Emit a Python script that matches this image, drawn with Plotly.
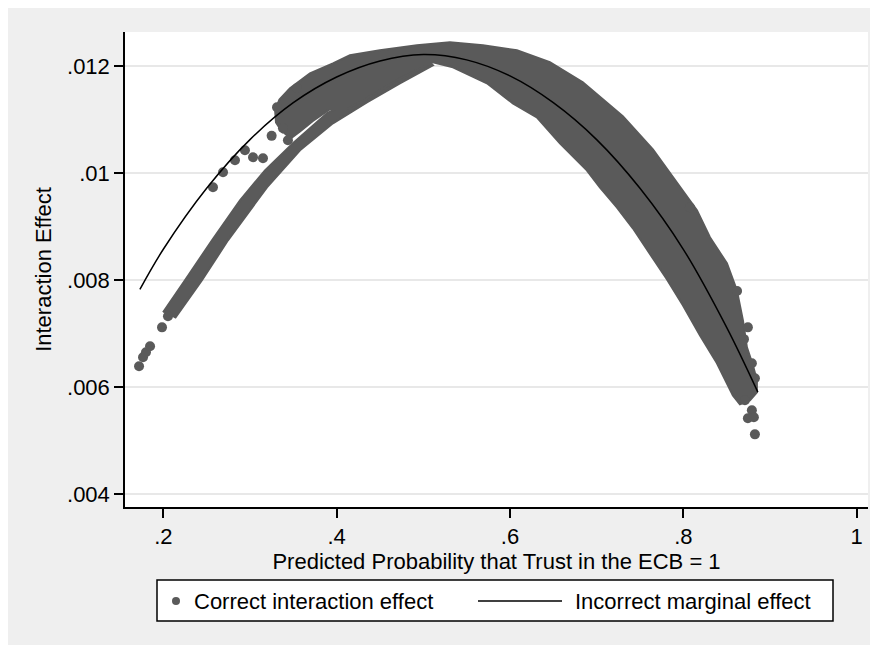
import plotly.graph_objects as go

# Incorrect marginal effect (smooth curve)
line_x = [0.173, 0.2, 0.25, 0.3, 0.35, 0.4, 0.45, 0.5, 0.55, 0.6, 0.65, 0.7, 0.75, 0.8, 0.85, 0.886]
line_y = [0.00783, 0.00858, 0.00972, 0.01063, 0.01132, 0.01180, 0.01210, 0.01222,
          0.01212, 0.01182, 0.01132, 0.01063, 0.00972, 0.00858, 0.00712, 0.00591]

# Correct interaction effect: the dense cloud is traced as two outlines
# thin lower band (left part)
band_x = [0.2135, 0.2446, 0.2746, 0.3081, 0.3196, 0.3577, 0.3957, 0.4349, 0.4730, 0.5111,
          0.5018, 0.4730, 0.4349, 0.4119, 0.3888, 0.3496, 0.3173, 0.2885, 0.2562, 0.2250, 0.1997]
band_y = [0.007290, 0.008000, 0.008748, 0.009495, 0.009738, 0.010430, 0.010935, 0.011327, 0.011682, 0.012019,
          0.012150, 0.011888, 0.011551, 0.011327, 0.011121, 0.010561, 0.010056, 0.009495, 0.008748, 0.008000, 0.007402]

# main cloud (upper cluster, peak and right part)
cloud_x = [0.3381, 0.3300, 0.3290, 0.3340, 0.3462, 0.3692, 0.3957, 0.4153, 0.4499, 0.4926, 0.5307,
           0.5688, 0.6080, 0.6460, 0.6841, 0.7302, 0.7649, 0.7960, 0.8157, 0.8307, 0.8503,
           0.8618, 0.8688, 0.8734, 0.8803, 0.8849, 0.8849, 0.8768, 0.8653, 0.8572, 0.8388,
           0.8191, 0.7995, 0.7810, 0.7614, 0.7418, 0.7233, 0.7037, 0.6887, 0.6576, 0.6310,
           0.6033, 0.5734, 0.5342, 0.5111, 0.4730, 0.4349, 0.4119, 0.3923, 0.3726, 0.3577, 0.3462]
cloud_y = [0.010750, 0.010950, 0.011180, 0.011380, 0.011589, 0.011869, 0.012056, 0.012206, 0.012299, 0.012393, 0.012449,
           0.012393, 0.012299, 0.012075, 0.011701, 0.011065, 0.010449, 0.009738, 0.009308, 0.008804, 0.008318,
           0.007813, 0.007252, 0.006748, 0.006411, 0.006131, 0.005907, 0.005757, 0.005682, 0.005850, 0.006449,
           0.006972, 0.007533, 0.008019, 0.008505, 0.008972, 0.009364, 0.009738, 0.010056, 0.010561, 0.011047,
           0.011308, 0.011682, 0.011981, 0.012075, 0.011776, 0.011400, 0.011200, 0.011200, 0.010980, 0.010780, 0.010640]

# stray points outside the dense cloud
dots_x = [0.1720, 0.1766, 0.1800, 0.1847, 0.1985, 0.2054,
          0.2573, 0.2689, 0.2827, 0.2942, 0.3035, 0.3150, 0.3438, 0.3381, 0.3312, 0.3542, 0.3250,
          0.8076, 0.8745, 0.8791, 0.8826, 0.8711, 0.8791, 0.8745, 0.8814, 0.8826, 0.8620, 0.8700]
dots_y = [0.006393, 0.006561, 0.006654, 0.006766, 0.007121, 0.007327,
          0.009738, 0.010019, 0.010243, 0.010430, 0.010299, 0.010280, 0.010617, 0.010841, 0.011234, 0.011589, 0.010700,
          0.009364, 0.007121, 0.006449, 0.006168, 0.005757, 0.005570, 0.005421, 0.005439, 0.005121, 0.007800, 0.006900]

x_ticks = [0.2, 0.4, 0.6, 0.8, 1.0]
x_labels = ['.2', '.4', '.6', '.8', '1']
y_ticks = [0.004, 0.006, 0.008, 0.01, 0.012]
y_labels = ['.004', '.006', '.008', '.01', '.012']

DOT = '#5a5a5a'
BG = '#efefef'
FONT = 'Arial, Liberation Sans, sans-serif'

fig = go.Figure()

for xs, ys in [(band_x, band_y), (cloud_x, cloud_y)]:
    fig.add_trace(go.Scatter(
        x=xs, y=ys, mode='lines', fill='toself', fillcolor=DOT,
        line=dict(color=DOT, width=2), hoverinfo='skip', showlegend=False
    ))

fig.add_trace(go.Scatter(
    x=dots_x, y=dots_y, mode='markers',
    marker=dict(color=DOT, size=10, line=dict(width=0)),
    name='Correct interaction effect', showlegend=False
))

fig.add_trace(go.Scatter(
    x=line_x, y=line_y, mode='lines', line=dict(color='black', width=1.5, shape='spline'),
    name='Incorrect marginal effect', showlegend=False
))

# page sits 8px in from the window corner; plot area spans page px 125..868 x 32..507
def px(v):
    return (v - 125) / 743

def py(v):
    return (507 - v) / 475

shapes = []
# legend drawn by hand (Stata style)
shapes.append(dict(type='rect', xref='paper', yref='paper', x0=px(157), x1=px(833),
                   y0=py(621), y1=py(580), fillcolor='white', line=dict(color='black', width=1.5)))
shapes.append(dict(type='circle', xref='paper', yref='paper', x0=px(172), x1=px(180),
                   y0=py(605), y1=py(597), fillcolor=DOT, line_width=0))
shapes.append(dict(type='line', xref='paper', yref='paper', x0=px(478), x1=px(562),
                   y0=py(601), y1=py(601), line=dict(color='black', width=1.5)))

annotations = [
    dict(text='Correct interaction effect', xref='paper', yref='paper', x=px(192), y=py(601),
         xanchor='left', yanchor='middle', showarrow=False, font=dict(size=22, color='black', family=FONT)),
    dict(text='Incorrect marginal effect', xref='paper', yref='paper', x=px(573), y=py(601),
         xanchor='left', yanchor='middle', showarrow=False, font=dict(size=22, color='black', family=FONT)),
]

fig.update_layout(
    width=868, height=637,
    margin=dict(l=117, r=8, t=24, b=138),
    paper_bgcolor=BG, plot_bgcolor='white',
    font=dict(family=FONT, size=22, color='black'),
    showlegend=False,
    shapes=shapes, annotations=annotations,
    xaxis=dict(
        range=[0.1558, 1.0131], tickvals=x_ticks, ticktext=x_labels,
        showgrid=False, zeroline=False, showline=True, linecolor='black', linewidth=1.5,
        ticks='outside', ticklen=9, tickwidth=1.5, tickcolor='black',
        tickfont=dict(size=22), title=dict(text='Predicted Probability that Trust in the ECB = 1',
                                           font=dict(size=22), standoff=2)
    ),
    yaxis=dict(
        range=[0.003763, 0.012641], tickvals=y_ticks, ticktext=y_labels,
        showgrid=True, gridcolor='#e8e8e8', gridwidth=1.5, zeroline=False,
        showline=True, linecolor='black', linewidth=1.5,
        ticks='outside', ticklen=9, tickwidth=1.5, tickcolor='black',
        tickfont=dict(size=22), title=dict(text='Interaction Effect', font=dict(size=22), standoff=9)
    ),
)

fig.write_html("out.html")
